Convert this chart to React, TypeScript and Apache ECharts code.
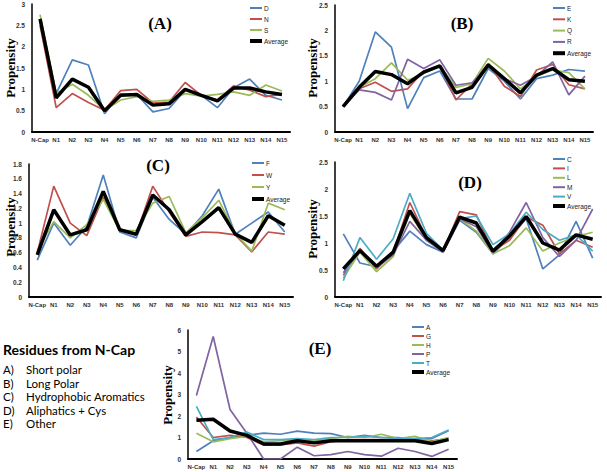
import React, { useEffect, useRef } from "react";
import * as echarts from "echarts";

const categories = ["N-Cap", "N1", "N2", "N3", "N4", "N5", "N6", "N7", "N8", "N9", "N10", "N11", "N12", "N13", "N14", "N15"];

// Panel A: Short polar
const aD = [2.65, 0.9, 1.69, 1.57, 0.43, 0.89, 0.88, 0.47, 0.55, 0.98, 0.86, 0.57, 1.04, 1.24, 0.86, 0.75];
const aN = [2.5, 0.57, 0.9, 0.69, 0.51, 0.97, 1.0, 0.68, 0.7, 1.16, 0.86, 0.75, 1.08, 0.98, 0.83, 0.88];
const aS = [2.75, 0.9, 1.12, 0.86, 0.51, 0.75, 0.83, 0.72, 0.75, 0.9, 0.84, 0.88, 0.94, 0.86, 1.1, 0.96];
const aAvg = [2.65, 0.8, 1.24, 1.05, 0.5, 0.86, 0.88, 0.63, 0.66, 1.0, 0.86, 0.73, 1.03, 1.03, 0.94, 0.88];

// Panel B: Long polar
const bE = [0.5, 1.0, 1.97, 1.67, 0.46, 1.07, 1.2, 0.65, 0.65, 1.25, 1.0, 0.65, 1.05, 1.12, 1.23, 1.2];
const bK = [0.5, 0.85, 0.98, 0.8, 0.85, 1.2, 1.3, 0.63, 0.95, 1.35, 0.9, 0.7, 1.22, 1.33, 0.93, 0.85];
const bQ = [0.5, 0.88, 1.05, 1.36, 1.02, 1.15, 1.3, 0.88, 0.95, 1.45, 1.2, 0.85, 1.1, 1.22, 1.17, 0.85];
const bR = [0.5, 0.83, 0.78, 0.63, 1.43, 1.25, 1.42, 0.92, 0.97, 1.3, 1.05, 0.92, 1.1, 1.38, 0.73, 1.1];
const bAvg = [0.5, 0.88, 1.19, 1.13, 0.95, 1.18, 1.3, 0.77, 0.88, 1.32, 1.05, 0.77, 1.12, 1.25, 1.03, 1.0];

// Panel C: Hydrophobic aromatics
const cF = [0.5, 1.0, 0.7, 0.95, 1.65, 0.88, 0.8, 1.35, 1.05, 0.85, 1.1, 1.46, 0.85, 1.0, 1.15, 0.88];
const cW = [0.6, 1.5, 1.0, 0.83, 1.35, 0.92, 0.85, 1.5, 1.15, 0.82, 0.88, 0.87, 0.84, 0.61, 0.88, 0.85];
const cY = [0.63, 1.02, 0.8, 0.98, 1.32, 0.9, 0.9, 1.27, 1.36, 0.87, 1.07, 1.31, 0.86, 0.62, 1.27, 1.18];
const cAvg = [0.57, 1.18, 0.84, 0.91, 1.43, 0.91, 0.85, 1.38, 1.18, 0.84, 1.02, 1.21, 0.85, 0.74, 1.1, 0.97];

// Panel D: Aliphatics + Cys
const dC = [1.17, 0.63, 0.56, 0.85, 1.22, 0.97, 0.83, 1.42, 1.2, 0.8, 1.1, 1.45, 0.52, 0.78, 1.4, 0.72];
const dI = [0.4, 0.9, 0.52, 0.82, 1.75, 1.1, 0.85, 1.58, 1.52, 0.85, 1.05, 1.48, 1.33, 0.8, 1.05, 0.92];
const dL = [0.35, 0.83, 0.47, 0.75, 1.55, 1.05, 0.85, 1.45, 1.22, 0.8, 0.95, 1.28, 0.85, 1.0, 1.12, 1.2];
const dM = [0.45, 0.85, 0.55, 0.78, 1.4, 1.05, 0.83, 1.45, 1.3, 0.82, 1.2, 1.75, 1.1, 0.75, 1.05, 1.63];
const dV = [0.3, 1.1, 0.7, 1.08, 1.92, 1.18, 0.87, 1.45, 1.5, 0.97, 1.17, 1.57, 1.25, 1.05, 1.15, 0.85];
const dAvg = [0.52, 0.86, 0.57, 0.83, 1.6, 1.1, 0.86, 1.48, 1.37, 0.85, 1.13, 1.49, 1.0, 0.87, 1.15, 1.07];

// Panel E: Other
const eA = [0.35, 0.85, 1.0, 1.1, 1.2, 1.15, 1.3, 1.2, 1.18, 1.0, 1.1, 1.0, 1.0, 0.9, 0.95, 1.32];
const eG = [1.95, 1.0, 1.1, 1.0, 0.65, 0.65, 0.75, 0.6, 0.8, 0.9, 0.9, 0.9, 0.9, 0.85, 0.85, 0.95];
const eH = [1.2, 0.8, 0.95, 1.05, 0.8, 0.85, 0.9, 0.85, 0.95, 1.05, 1.0, 1.15, 0.95, 1.05, 0.8, 1.0];
const eP = [2.95, 5.7, 2.3, 1.2, 0.0, 0.0, 0.55, 0.15, 0.2, 0.35, 0.2, 0.13, 0.5, 0.35, 0.12, 0.45];
const eT = [2.45, 0.9, 1.0, 1.25, 0.9, 0.9, 0.95, 0.9, 1.0, 1.0, 1.05, 1.0, 0.95, 0.95, 1.0, 1.35];
const eAvg = [1.8, 1.85, 1.3, 1.1, 0.7, 0.7, 0.85, 0.75, 0.85, 0.85, 0.85, 0.85, 0.85, 0.85, 0.72, 0.9];

// Axis ranges
const yMax = [3, 2.5, 1.8, 2.5, 6];
const yInterval = [0.5, 0.5, 0.2, 0.5, 1];

const panelTitles = ["(A)", "(B)", "(C)", "(D)", "(E)"];
const yAxisTitle = "Propensity";
const legendHeading = "Residues from N-Cap";
const groupLetters = ["A)", "B)", "C)", "D)", "E)"];
const groupNames = ["Short polar", "Long Polar", "Hydrophobic Aromatics", "Aliphatics + Cys", "Other"];

const BLUE = "#4F81BD";
const RED = "#C0504D";
const GREEN = "#9BBB59";
const PURPLE = "#8064A2";
const TEAL = "#4BACC6";

type S = { name: string; data: number[]; color: string };

const panels: S[][] = [
  [
    { name: "D", data: aD, color: BLUE },
    { name: "N", data: aN, color: RED },
    { name: "S", data: aS, color: GREEN },
  ],
  [
    { name: "E", data: bE, color: BLUE },
    { name: "K", data: bK, color: RED },
    { name: "Q", data: bQ, color: GREEN },
    { name: "R", data: bR, color: PURPLE },
  ],
  [
    { name: "F", data: cF, color: BLUE },
    { name: "W", data: cW, color: RED },
    { name: "Y", data: cY, color: GREEN },
  ],
  [
    { name: "C", data: dC, color: BLUE },
    { name: "I", data: dI, color: RED },
    { name: "L", data: dL, color: GREEN },
    { name: "M", data: dM, color: PURPLE },
    { name: "V", data: dV, color: TEAL },
  ],
  [
    { name: "A", data: eA, color: BLUE },
    { name: "G", data: eG, color: RED },
    { name: "H", data: eH, color: GREEN },
    { name: "P", data: eP, color: PURPLE },
    { name: "T", data: eT, color: TEAL },
  ],
];
const averages = [aAvg, bAvg, cAvg, dAvg, eAvg];

const grids = [
  { left: 32, top: 4, width: 258, height: 128 },
  { left: 335, top: 5, width: 258, height: 127 },
  { left: 29, top: 164, width: 264, height: 133 },
  { left: 335, top: 162, width: 266, height: 135 },
  { left: 188, top: 330, width: 269, height: 129 },
];

const legendPos = [
  { left: 250, top: 4, gap: 3 },
  { left: 553, top: 4, gap: 3.3 },
  { left: 252, top: 159, gap: 4 },
  { left: 553, top: 155, gap: 1.4 },
  { left: 412, top: 323, gap: 1 },
];

const titlePos = [
  [160, 23],
  [462, 23],
  [158, 165],
  [470, 182],
  [320, 348],
];

const propPos = [
  [10, 68],
  [312, 68],
  [10, 227],
  [312, 229],
  [167, 395],
];

export default function App() {
  const ref = useRef<HTMLDivElement>(null);
  useEffect(() => {
    if (!ref.current) return;
    const chart = echarts.init(ref.current, undefined, { renderer: "svg" });

    const xAxes: any[] = [];
    const yAxes: any[] = [];
    const series: any[] = [];
    const legends: any[] = [];
    const graphics: any[] = [];

    panels.forEach((list, i) => {
      xAxes.push({
        type: "category",
        gridIndex: i,
        data: categories,
        boundaryGap: true,
        axisLine: { lineStyle: { color: "#000", width: 2 } },
        axisTick: { show: false },
        axisLabel: { interval: 0, fontSize: 6, fontWeight: "bold", color: "#333", margin: 5, fontFamily: "Liberation Sans" },
        splitLine: { show: false },
      });
      yAxes.push({
        type: "value",
        gridIndex: i,
        min: 0,
        max: yMax[i],
        interval: yInterval[i],
        axisLine: { show: true, lineStyle: { color: "#000", width: 1.5 } },
        axisTick: { show: false },
        splitLine: { show: false },
        axisLabel: { fontSize: 6.5, fontWeight: "bold", color: "#333", margin: 7, fontFamily: "Liberation Sans" },
      });
      list.forEach((s) => {
        series.push({
          type: "line",
          name: s.name,
          xAxisIndex: i,
          yAxisIndex: i,
          data: s.data,
          symbol: "none",
          showSymbol: false,
          lineStyle: { color: s.color, width: 1.7 },
          itemStyle: { color: s.color },
          z: 2,
        });
      });
      series.push({
        type: "line",
        name: "Average",
        xAxisIndex: i,
        yAxisIndex: i,
        data: averages[i],
        symbol: "none",
        showSymbol: false,
        lineStyle: { color: "#000", width: 3.5 },
        itemStyle: { color: "#000" },
        z: 3,
      });
      const lp = legendPos[i];
      const common = {
        orient: "vertical",
        left: lp.left,
        icon: "rect",
        itemWidth: 12,
        padding: 0,
        itemGap: lp.gap,
        selectedMode: false,
        textStyle: { fontSize: 6.5, color: "#222", lineHeight: 8, padding: [0, 0, 0, -3], fontFamily: "Liberation Sans" },
      };
      legends.push({ ...common, top: lp.top, itemHeight: 2, data: list.map((s) => s.name) });
      legends.push({ ...common, top: lp.top + list.length * (8 + lp.gap), itemHeight: 4, data: ["Average"] });

      graphics.push({
        type: "text",
        x: titlePos[i][0],
        y: titlePos[i][1],
        style: { text: panelTitles[i], font: "bold 17px 'Liberation Serif'", fill: "#000", align: "center", verticalAlign: "middle" },
      });
      graphics.push({
        type: "text",
        x: propPos[i][0],
        y: propPos[i][1],
        rotation: Math.PI / 2,
        style: { text: yAxisTitle, font: "bold 13px 'Liberation Serif'", fill: "#000", align: "center", verticalAlign: "middle" },
      });
    });

    graphics.push({
      type: "text",
      x: 3,
      y: 349,
      style: { text: legendHeading, font: "bold 14px Lato", fill: "#000", align: "left", verticalAlign: "middle" },
    });
    groupLetters.forEach((l, k) => {
      const y = 369.5 + k * 13.6;
      graphics.push({
        type: "text",
        x: 3,
        y,
        style: { text: l, font: "11.5px Lato", fill: "#000", align: "left", verticalAlign: "middle" },
      });
      graphics.push({
        type: "text",
        x: 26,
        y,
        style: { text: groupNames[k], font: "11.5px Lato", fill: "#000", align: "left", verticalAlign: "middle" },
      });
    });

    chart.setOption({
      animation: false,
      backgroundColor: "#fff",
      grid: grids.map((g) => ({ ...g, containLabel: false })),
      xAxis: xAxes,
      yAxis: yAxes,
      legend: legends,
      series,
      graphic: graphics,
    });
    return () => chart.dispose();
  }, []);
  return (
    <div
      ref={ref}
      style={{ position: "absolute", left: 0, top: 0, width: 607, height: 472, background: "#fff" }}
    />
  );
}
